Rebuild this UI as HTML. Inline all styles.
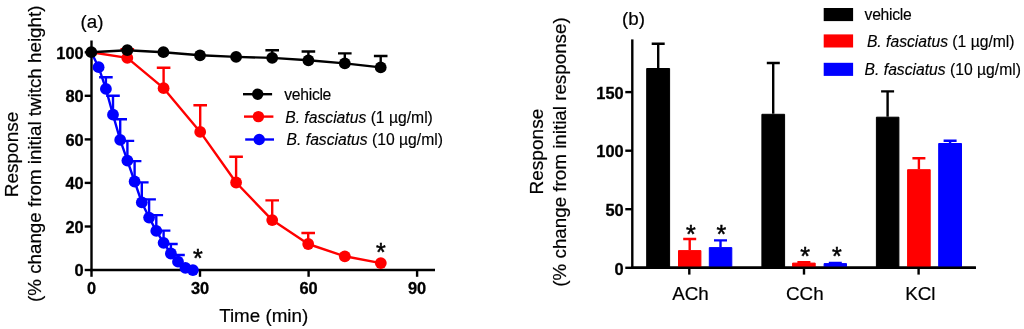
<!DOCTYPE html>
<html><head><meta charset="utf-8"><title>figure</title>
<style>html,body{margin:0;padding:0;background:#fff}svg{display:block}text{font-family:"Liberation Sans",Arial,sans-serif;fill:#000}.b{font-weight:bold;font-size:16.4px;stroke:#000;stroke-width:.3px}.t{font-size:18.8px;stroke:#000;stroke-width:.2px}.l{font-size:15.7px;stroke:#000;stroke-width:.15px}.i{font-style:italic}.s{font-size:25px;stroke:#000;stroke-width:.5px}.v{letter-spacing:-.3px}</style></head><body>
<svg width="1024" height="329" viewBox="0 0 1024 329">
<rect width="1024" height="329" fill="#fff"/>
<g stroke="#000" stroke-width="2.4" fill="none" stroke-linecap="butt">
<path d="M91.5 40.5V271.2"/>
<path d="M90.3 270.0H435.0"/>
<path d="M84.7 270.0H91.5"/>
<path d="M84.7 226.5H91.5"/>
<path d="M84.7 182.9H91.5"/>
<path d="M84.7 139.4H91.5"/>
<path d="M84.7 95.8H91.5"/>
<path d="M84.7 52.3H91.5"/>
<path d="M91.5 270.0V276.8"/>
<path d="M200.0 270.0V276.8"/>
<path d="M308.6 270.0V276.8"/>
<path d="M417.1 270.0V276.8"/>
</g>
<text class="b" x="83.7" y="276.3" text-anchor="end">0</text>
<text class="b" x="83.7" y="232.8" text-anchor="end">20</text>
<text class="b" x="83.7" y="189.2" text-anchor="end">40</text>
<text class="b" x="83.7" y="145.7" text-anchor="end">60</text>
<text class="b" x="83.7" y="102.1" text-anchor="end">80</text>
<text class="b" x="83.7" y="58.6" text-anchor="end">100</text>
<text class="b" x="91.5" y="293.6" text-anchor="middle">0</text>
<text class="b" x="200.0" y="293.6" text-anchor="middle">30</text>
<text class="b" x="308.6" y="293.6" text-anchor="middle">60</text>
<text class="b" x="417.1" y="293.6" text-anchor="middle">90</text>
<text class="t" x="263.7" y="322.4" text-anchor="middle">Time (min)</text>
<text class="t" transform="translate(18.2 154.5) rotate(-90)" text-anchor="middle" style="font-size:19px">Response</text>
<text class="t" transform="translate(40.5 153.8) rotate(-90)" text-anchor="middle">(% change from initial twitch height)</text>
<text class="t" x="80.5" y="27.6">(a)</text>
<g stroke="#00f" stroke-width="2.4" fill="none" stroke-linejoin="round">
<path d="M105.9 88.9V77.2M99.1 77.2H112.7"/>
<path d="M113 114.7V95.7M106.2 95.7H119.8"/>
<path d="M120.2 139.9V119.2M113.4 119.2H127.0"/>
<path d="M127.4 160.6V140.9M120.6 140.9H134.2"/>
<path d="M134.6 181.5V161.1M127.8 161.1H141.4"/>
<path d="M141.8 202.4V182.4M135.0 182.4H148.6"/>
<path d="M149.1 217.6V199.4M142.3 199.4H155.9"/>
<path d="M156.3 230.9V215.1M149.5 215.1H163.1"/>
<path d="M163.6 242.8V230.6M156.8 230.6H170.4"/>
<path d="M170.9 253.5V244M164.1 244H177.7"/>
<path d="M178 261.7V255M171.2 255H184.8"/>
<polyline points="91.3,52.2 98.6,67.2 105.9,88.9 113,114.7 120.2,139.9 127.4,160.6 134.6,181.5 141.8,202.4 149.1,217.6 156.3,230.9 163.6,242.8 170.9,253.5 178,261.7 185.4,267.9 192.9,270.1"/>
</g>
<g fill="#00f">
<circle cx="98.6" cy="67.2" r="5.9"/>
<circle cx="105.9" cy="88.9" r="5.9"/>
<circle cx="113" cy="114.7" r="5.9"/>
<circle cx="120.2" cy="139.9" r="5.9"/>
<circle cx="127.4" cy="160.6" r="5.9"/>
<circle cx="134.6" cy="181.5" r="5.9"/>
<circle cx="141.8" cy="202.4" r="5.9"/>
<circle cx="149.1" cy="217.6" r="5.9"/>
<circle cx="156.3" cy="230.9" r="5.9"/>
<circle cx="163.6" cy="242.8" r="5.9"/>
<circle cx="170.9" cy="253.5" r="5.9"/>
<circle cx="178" cy="261.7" r="5.9"/>
<circle cx="185.4" cy="267.9" r="5.9"/>
<circle cx="192.9" cy="270.1" r="5.9"/>
</g>
<g stroke="#f00" stroke-width="2.4" fill="none" stroke-linejoin="round">
<path d="M127.3 57.9V49.2M120.5 49.2H134.1"/>
<path d="M163.6 88.2V67.7M156.8 67.7H170.4"/>
<path d="M200.2 131.9V105.2M193.4 105.2H207.0"/>
<path d="M236.1 182.5V156.8M229.3 156.8H242.9"/>
<path d="M272.2 220.1V200.4M265.4 200.4H279.0"/>
<path d="M308.2 244V233M301.4 233H315.0"/>
<polyline points="91.3,52.2 127.3,57.9 163.6,88.2 200.2,131.9 236.1,182.5 272.2,220.1 308.2,244 344.8,256.3 380.8,263.1"/>
</g>
<g fill="#f00">
<circle cx="127.3" cy="57.9" r="5.9"/>
<circle cx="163.6" cy="88.2" r="5.9"/>
<circle cx="200.2" cy="131.9" r="5.9"/>
<circle cx="236.1" cy="182.5" r="5.9"/>
<circle cx="272.2" cy="220.1" r="5.9"/>
<circle cx="308.2" cy="244" r="5.9"/>
<circle cx="344.8" cy="256.3" r="5.9"/>
<circle cx="380.8" cy="263.1" r="5.9"/>
</g>
<g stroke="#000" stroke-width="2.4" fill="none" stroke-linejoin="round">
<path d="M272.2 57.9V50.3M265.4 50.3H279.0"/>
<path d="M308.4 60.3V51.5M301.6 51.5H315.2"/>
<path d="M344.8 63.4V53.4M338.0 53.4H351.6"/>
<path d="M380.7 67.4V56.0M373.9 56.0H387.5"/>
<polyline points="91.3,52.2 127.3,50.2 163.4,52.2 200,55.3 236.1,56.9 272.2,57.9 308.4,60.3 344.8,63.4 380.7,67.4"/>
</g>
<g fill="#000">
<circle cx="91.3" cy="52.2" r="5.9"/>
<circle cx="127.3" cy="50.2" r="5.9"/>
<circle cx="163.4" cy="52.2" r="5.9"/>
<circle cx="200" cy="55.3" r="5.9"/>
<circle cx="236.1" cy="56.9" r="5.9"/>
<circle cx="272.2" cy="57.9" r="5.9"/>
<circle cx="308.4" cy="60.3" r="5.9"/>
<circle cx="344.8" cy="63.4" r="5.9"/>
<circle cx="380.7" cy="67.4" r="5.9"/>
</g>
<text class="s" x="197.8" y="266.7" text-anchor="middle">*</text>
<text class="s" x="380.8" y="261.4" text-anchor="middle">*</text>
<path d="M243 94.2H272.1" stroke="#000" stroke-width="2.4"/><circle cx="257.7" cy="94.2" r="5.7" fill="#000"/>
<text class="l v" x="284.3" y="99.7">vehicle</text>
<path d="M244 116.6H273.4" stroke="#f00" stroke-width="2.4"/><circle cx="258.4" cy="116.6" r="5.7" fill="#f00"/>
<text class="l" x="285.2" y="122.8"><tspan class="i">B. fasciatus</tspan> (1 µg/ml)</text>
<path d="M245.2 139.5H274" stroke="#00f" stroke-width="2.4"/><circle cx="259.2" cy="139.5" r="5.7" fill="#00f"/>
<text class="l" x="286.6" y="145.2"><tspan class="i">B. fasciatus</tspan> (10 µg/ml)</text>
<g stroke="#000" stroke-width="2.4" fill="none">
<path d="M632.3 39.4V269.0"/>
<path d="M631.0999999999999 267.8H975.9"/>
<path d="M625.3 267.8H632.3"/>
<path d="M625.3 209.2H632.3"/>
<path d="M625.3 150.7H632.3"/>
<path d="M625.3 92.1H632.3"/>
<path d="M689.3 267.8V274.6"/>
<path d="M804.0 267.8V274.6"/>
<path d="M918.6 267.8V274.6"/>
</g>
<text class="b" x="623.6999999999999" y="274.5" text-anchor="end">0</text>
<text class="b" x="623.6999999999999" y="215.9" text-anchor="end">50</text>
<text class="b" x="623.6999999999999" y="157.4" text-anchor="end">100</text>
<text class="b" x="623.6999999999999" y="98.8" text-anchor="end">150</text>
<text class="t" x="690.5" y="299.7" text-anchor="middle">ACh</text>
<text class="t" x="804.8" y="299.7" text-anchor="middle">CCh</text>
<text class="t" x="920.4" y="299.7" text-anchor="middle">KCl</text>
<text class="t" transform="translate(543.3 151.6) rotate(-90)" text-anchor="middle" style="font-size:19.1px">Response</text>
<text class="t" transform="translate(565.5 152) rotate(-90)" text-anchor="middle">(% change from initial response)</text>
<text class="t" x="622" y="24.9">(b)</text>
<rect x="646.7" y="68.5" width="22.9" height="199.8" fill="#000" stroke="#000" stroke-width="1" stroke-linejoin="round"/>
<path d="M658.2 68.0V43.7M651.7 43.7H664.7" stroke="#000" stroke-width="2.4" fill="none"/>
<rect x="678.5" y="250.6" width="22.4" height="17.7" fill="#f00" stroke="#f00" stroke-width="1" stroke-linejoin="round"/>
<path d="M689.7 250.1V239.0M683.2 239.0H696.2" stroke="#f00" stroke-width="2.4" fill="none"/>
<rect x="709.3" y="247.6" width="22.5" height="20.7" fill="#00f" stroke="#00f" stroke-width="1" stroke-linejoin="round"/>
<path d="M720.5 247.1V240.4M714.0 240.4H727.0" stroke="#00f" stroke-width="2.4" fill="none"/>
<rect x="761.9" y="114.3" width="22.7" height="154.0" fill="#000" stroke="#000" stroke-width="1" stroke-linejoin="round"/>
<path d="M773.2 113.8V63.0M766.8 63.0H779.8" stroke="#000" stroke-width="2.4" fill="none"/>
<rect x="792.6" y="263.1" width="22.6" height="5.2" fill="#f00" stroke="#f00" stroke-width="1" stroke-linejoin="round"/>
<path d="M803.9 262.6V262.2M797.4 262.2H810.4" stroke="#f00" stroke-width="2.4" fill="none"/>
<rect x="824.1" y="263.6" width="22.4" height="4.7" fill="#00f" stroke="#00f" stroke-width="1" stroke-linejoin="round"/>
<path d="M835.3 263.1V263.0M828.8 263.0H841.8" stroke="#00f" stroke-width="2.4" fill="none"/>
<rect x="876.4" y="117.2" width="22.5" height="151.1" fill="#000" stroke="#000" stroke-width="1" stroke-linejoin="round"/>
<path d="M887.6 116.7V91.4M881.1 91.4H894.1" stroke="#000" stroke-width="2.4" fill="none"/>
<rect x="907.6" y="169.7" width="22.6" height="98.6" fill="#f00" stroke="#f00" stroke-width="1" stroke-linejoin="round"/>
<path d="M918.9 169.2V158.2M912.4 158.2H925.4" stroke="#f00" stroke-width="2.4" fill="none"/>
<rect x="938.7" y="143.5" width="22.8" height="124.8" fill="#00f" stroke="#00f" stroke-width="1" stroke-linejoin="round"/>
<path d="M950.1 143.0V140.8M943.6 140.8H956.6" stroke="#00f" stroke-width="2.4" fill="none"/>
<path d="M631.0999999999999 267.8H975.9" stroke="#000" stroke-width="2.4"/>
<text class="s" x="690.9" y="242.8" text-anchor="middle">*</text>
<text class="s" x="721.4" y="242.8" text-anchor="middle">*</text>
<text class="s" x="805" y="264.6" text-anchor="middle">*</text>
<text class="s" x="836.8" y="264.6" text-anchor="middle">*</text>
<rect x="823.7" y="8.0" width="29.4" height="13.1" fill="#000"/>
<text class="l v" x="864.6" y="19.9">vehicle</text>
<rect x="823.7" y="34.4" width="29.4" height="13.1" fill="#f00"/>
<text class="l" x="866.9" y="46.8"><tspan class="i">B. fasciatus</tspan> (1 µg/ml)</text>
<rect x="823.7" y="62.8" width="29.4" height="13.1" fill="#00f"/>
<text class="l" x="864.6" y="74.7"><tspan class="i">B. fasciatus</tspan> (10 µg/ml)</text>
</svg></body></html>
